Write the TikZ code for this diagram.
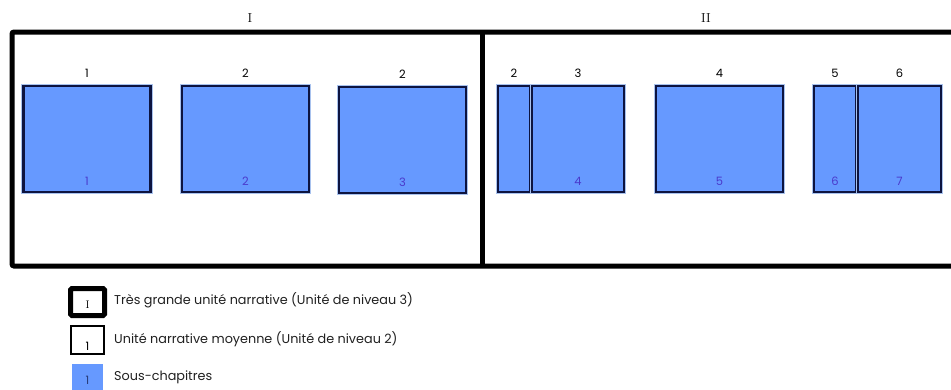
\documentclass[tikz,border=0pt]{standalone}
\usepackage{fontspec}
\newfontfamily\geofont{Poppins}
\usepackage{xcolor}
\usepackage{tikz}
\usetikzlibrary{
	               	backgrounds,
	               	calc
					}

\definecolor{sousbleu}{HTML}{6699FF}
\definecolor{halobleu}{HTML}{A8C2EE}
\definecolor{bordnuit}{HTML}{0D1440}
\definecolor{numbleu}{HTML}{4A3ACC}
\definecolor{textgris}{HTML}{202020}

\begin{document}
\begin{tikzpicture}[x=1pt,y=-1pt,
	cadre/.style={draw=black,line width=5pt,rounded corners=2pt},
	souschap/.style={fill=sousbleu,draw=bordnuit,line width=2.7pt,inner sep=0pt,
		preaction={draw=halobleu,line width=4.8pt},minimum height=106pt},
	numhaut/.style={font=\geofont\fontsize{11.5}{13}\selectfont,text=black,inner sep=0pt},
	numbas/.style={font=\geofont\fontsize{11.5}{13}\selectfont,text=numbleu,inner sep=0pt},
	legtext/.style={font=\geofont\fontsize{12.8}{15}\selectfont,text=textgris,anchor=west,inner sep=0pt}]
	\clip (0,0) rectangle (951,389);

	% grandes unites
	\draw[cadre] (12,32) rectangle (980,266);
	\draw[cadre] (482,32) -- (482,266);
	\node[inner sep=0pt,font=\fontsize{13}{15}\selectfont] (romI) at (250,18) {I};
	\node[inner sep=0pt,font=\fontsize{13}{15}\selectfont] (romII) at (706,18) {II};

	% sous-chapitres
	\node[souschap,minimum width=127pt] (sc1) at (87,139) {};
	\node[souschap,minimum width=127pt] (sc2) at (245.5,139) {};
	\node[souschap,minimum width=127pt] (sc3) at (402.5,140) {};
	\node[souschap,minimum width=32pt] (sc4a) at (514,139) {};
	\node[souschap,minimum width=92pt] (sc4b) at (578,139) {};
	\node[souschap,minimum width=127pt] (sc5) at (719.5,139) {};
	\node[souschap,minimum width=42pt] (sc6a) at (835,139) {};
	\node[souschap,minimum width=83pt] (sc6b) at (899.5,139) {};

	% unites moyennes
	\node[numhaut] (um1) at ([yshift=11pt]sc1.north) {1};
	\node[numhaut] (um2) at ([yshift=11pt]sc2.north) {2};
	\node[numhaut] (um2b) at ([yshift=11pt]sc3.north) {2};
	\node[numhaut] (um2c) at ([yshift=11pt]sc4a.north) {2};
	\node[numhaut] (um3) at ([yshift=11pt]sc4b.north) {3};
	\node[numhaut] (um4) at ([yshift=11pt]sc5.north) {4};
	\node[numhaut] (um5) at ([yshift=11pt]sc6a.north) {5};
	\node[numhaut] (um6) at ([yshift=11pt]sc6b.north) {6};

	\node[numbas] (n1) at ([yshift=12pt]sc1.south) {1};
	\node[numbas] (n2) at ([yshift=12pt]sc2.south) {2};
	\node[numbas] (n3) at ([yshift=12pt]sc3.south) {3};
	\node[numbas] (n4) at ([yshift=12pt]sc4b.south) {4};
	\node[numbas] (n5) at ([yshift=12pt]sc5.south) {5};
	\node[numbas] (n6) at ([yshift=12pt]sc6a.south) {6};
	\node[numbas] (n7) at ([yshift=12pt]sc6b.south) {7};

	% legende
	\node[draw=black,line width=5pt,rounded corners=1.5pt,minimum width=34pt,minimum height=27pt] (legI) at (87.5,302) {};
	\node[inner sep=0pt,font=\fontsize{11}{13}\selectfont] at ([yshift=13pt]legI.south) {I};
	\node[draw=black,line width=2pt,minimum width=33pt,minimum height=28pt] (leg1) at (87.5,340) {};
	\node[numhaut] at ([yshift=9pt]leg1.south) {1};
	\node[fill=sousbleu,minimum width=31pt,minimum height=28pt] (legsc) at (87.5,378) {};
	\node[numbas,text=bordnuit!70!sousbleu] at ([yshift=-2.5pt]legsc.center) {1};
	\node[legtext] (tI) at (114,300) {Très grande unité narrative (Unité de niveau 3)};
	\node[legtext] (t1) at (114,339) {Unité narrative moyenne (Unité de niveau 2)};
	\node[legtext] (tsc) at (114,377) {Sous-chapitres};

\end{tikzpicture}
\end{document}
